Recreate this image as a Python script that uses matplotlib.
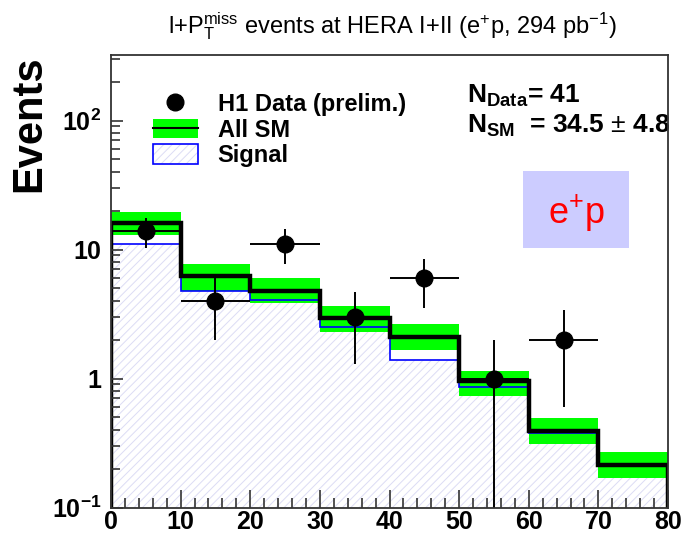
import matplotlib
matplotlib.use('Agg')
import matplotlib.pyplot as plt
import numpy as np
from matplotlib.patches import Patch, Rectangle
from matplotlib.lines import Line2D
from matplotlib.legend_handler import HandlerTuple
from matplotlib.ticker import LogLocator, MultipleLocator, FixedLocator, FixedFormatter, NullFormatter

plt.rcParams['font.family'] = ['Liberation Sans', 'DejaVu Sans']
plt.rcParams['mathtext.fontset'] = 'custom'
plt.rcParams['mathtext.rm'] = 'Liberation Sans'
plt.rcParams['mathtext.bf'] = 'Liberation Sans:bold'
plt.rcParams['mathtext.it'] = 'Liberation Sans:italic'
plt.rcParams['hatch.linewidth'] = 0.7

# data (P_T^X bins, events)
bin_edges = [0, 10, 20, 30, 40, 50, 60, 70, 80]
data_x = [5, 15, 25, 35, 45, 55, 65]
data_y = [14, 4, 11, 3, 6, 1, 2]
data_err = [3.7, 2.0, 3.3, 1.7, 2.45, 1.0, 1.4]
sm_total = [16.1, 6.2, 4.8, 2.93, 2.09, 0.95, 0.395, 0.214]
sm_lo = [13.0, 4.8, 3.83, 2.31, 1.65, 0.73, 0.31, 0.169]
sm_hi = [19.5, 7.75, 6.0, 3.63, 2.66, 1.14, 0.49, 0.27]
signal = [11.1, 4.8, 4.07, 2.5, 1.40, 0.86, 0.377, 0.208]

ytick_vals = [0.1, 1, 10, 100]
ytick_labels = [r'$\mathbf{10^{-1}}$', '1', '10', r'$\mathbf{10^{2}}$']

fig = plt.figure(figsize=(6.87, 5.35), dpi=100)
ax = fig.add_axes([0.1616, 0.0514, 0.8108, 0.8458])

lo = np.array(sm_lo)
hi = np.array(sm_hi)
hatch_col = '#dcdcf4'

# signal, hatched
ax.stairs(signal, bin_edges, baseline=1e-3, fill=True, facecolor='white',
          edgecolor=hatch_col, hatch='////', linewidth=0, zorder=1)
# SM uncertainty band
ax.bar(bin_edges[:-1], hi - lo, bottom=lo, width=10, align='edge',
       color='#00ff00', linewidth=0, zorder=2)
ax.stairs(signal, bin_edges, color='#0000ff', linewidth=1.2, zorder=3)
ax.stairs(sm_total, bin_edges, color='black', linewidth=3.2, zorder=4)
ax.errorbar(data_x, data_y, xerr=5, yerr=data_err, fmt='o', color='black',
            ms=12, elinewidth=1.4, capsize=0, zorder=5)

ax.set_yscale('log')
ax.set_xlim(0, 80)
ax.set_ylim(0.1, 322)

ax.xaxis.set_major_locator(MultipleLocator(10))
ax.xaxis.set_minor_locator(MultipleLocator(2))
ax.yaxis.set_major_locator(FixedLocator(ytick_vals))
ax.yaxis.set_major_formatter(FixedFormatter(ytick_labels))
ax.yaxis.set_minor_locator(LogLocator(base=10, subs=np.arange(2, 10)))
ax.yaxis.set_minor_formatter(NullFormatter())

ax.tick_params(axis='both', which='both', direction='in', top=False, right=False,
               color='#333333', width=1.2)
ax.tick_params(axis='x', which='major', length=13, pad=2)
ax.tick_params(axis='x', which='minor', length=7)
ax.tick_params(axis='y', which='major', length=8.5, pad=7)
ax.tick_params(axis='y', which='minor', length=6.5)
for lab in ax.get_xticklabels() + ax.get_yticklabels():
    lab.set_fontsize(18)
    lab.set_fontweight('bold')
for a in (ax.xaxis, ax.yaxis):
    a.set_zorder(6)
for s in ax.spines.values():
    s.set_color('#333333')
    s.set_linewidth(1.3)
    s.set_zorder(6)

fig.text(0.042, 0.897, 'Events', rotation=90, ha='center', va='top',
         fontsize=30, fontweight='bold')
fig.text(0.571, 0.952,
         r'l+P$_\mathrm{T}^\mathrm{miss}$ events at HERA I+II (e$^\mathrm{+}$p, 294 pb$^\mathrm{-1}$)',
         ha='center', va='center', fontsize=17)

# legend
h_data = Line2D([], [], marker='o', color='black', ls='none', ms=12)
h_sm = (Patch(facecolor='#00ff00', edgecolor='none'), Line2D([], [], color='black', lw=1.5))
h_sig = (Patch(facecolor='white', edgecolor=hatch_col, hatch='////', linewidth=0),
         Patch(facecolor='none', edgecolor='#0000ff', linewidth=1.2))
ax.legend([h_data, h_sm, h_sig], ['H1 Data (prelim.)', 'All SM', 'Signal'],
          handler_map={tuple: HandlerTuple(ndivide=1, pad=0)},
          loc='upper left', bbox_to_anchor=(0.075, 0.915), borderaxespad=0,
          borderpad=0, frameon=False, prop={'weight': 'bold', 'size': 17},
          handlelength=1.9, handleheight=0.9, handletextpad=0.85, labelspacing=0.1)

ax.text(0.6386, 0.894, r'$\mathbf{N}_{\mathbf{Data}}$= 41', transform=ax.transAxes,
        fontsize=19, fontweight='bold', va='baseline', ha='left')
ax.text(0.6386, 0.8276, r'$\mathbf{N}_{\mathbf{SM}}$  = 34.5 $\pm$ 4.8', transform=ax.transAxes,
        fontsize=19, fontweight='bold', va='baseline', ha='left')

ax.add_patch(Rectangle((0.7397, 0.5735), 0.1903, 0.1702, transform=ax.transAxes,
                       facecolor='#ccccff', edgecolor='none', zorder=5))
ax.text(0.835, 0.651, r'e$^\mathrm{+}$p', transform=ax.transAxes, color='red',
        fontsize=26, ha='center', va='center', zorder=6)

fig.savefig('out.png', dpi=100)
